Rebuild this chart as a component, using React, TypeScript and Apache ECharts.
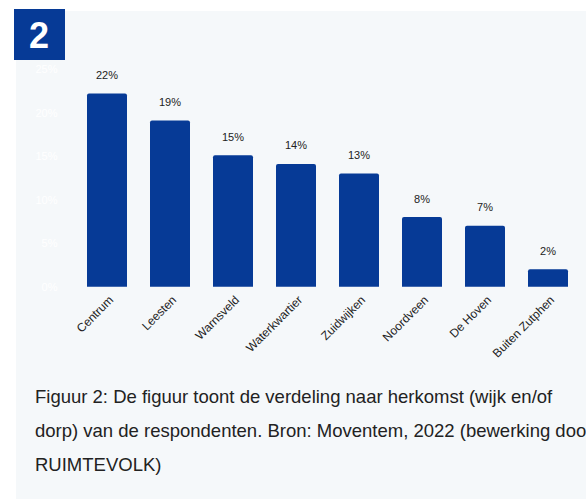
import React, { useEffect, useRef } from "react";
import * as echarts from "echarts";

const categories = ["Centrum", "Leesten", "Warnsveld", "Waterkwartier", "Zuidwijken", "Noordveen", "De Hoven", "Buiten Zutphen"];
const values = [22.2, 19.1, 15.1, 14.1, 13.0, 8.0, 7.0, 2.0];
const captionLines = [
  "Figuur 2: De figuur toont de verdeling naar herkomst (wijk en/of",
  "dorp) van de respondenten. Bron: Moventem, 2022 (bewerking door",
  "RUIMTEVOLK)",
];

export default function App() {
  const ref = useRef<HTMLDivElement>(null);
  useEffect(() => {
    if (!ref.current) return;
    const chart = echarts.init(ref.current, null, { renderer: "svg" });
    const blue = "#063a96";
    chart.setOption({
      animation: false,
      backgroundColor: "#ffffff",
      textStyle: { fontFamily: "Liberation Sans, Arial, sans-serif" },
      graphic: [
        { type: "rect", z: -10, silent: true, shape: { x: 16, y: 11, width: 600, height: 500 }, style: { fill: "#f5f8fa" } },
        { type: "rect", z: 10, shape: { x: 14, y: 9, width: 51, height: 51 }, style: { fill: blue } },
        {
          type: "text", z: 11, x: 39, y: 35,
          style: { text: "2", fill: "#ffffff", font: "bold 36px Liberation Sans, Arial, sans-serif", align: "center", verticalAlign: "middle" },
        },
        ...captionLines.map((t, i) => ({
          type: "text", z: 11, x: 35, y: 396 + i * 34,
          style: { text: t, fill: "#222222", font: "18.5px Liberation Sans, Arial, sans-serif", align: "left", verticalAlign: "middle" },
        })),
      ],
      grid: { left: 75.5, right: 6.5, top: 69, bottom: 212.3, containLabel: false },
      xAxis: {
        type: "category",
        data: categories,
        axisLine: { show: false },
        axisTick: { show: false },
        axisLabel: { rotate: 45, fontSize: 12, color: "#222222", margin: 7, interval: 0, verticalAlign: "top" },
      },
      yAxis: {
        type: "value",
        min: 0,
        max: 25,
        interval: 5,
        axisLine: { show: false },
        axisTick: { show: false },
        splitLine: { show: false },
        axisLabel: { formatter: "{value}%", fontSize: 11, color: "#ffffff", margin: 18 },
      },
      series: [
        {
          type: "bar",
          data: values,
          barWidth: 40,
          itemStyle: { color: blue, borderRadius: [2, 2, 0, 0] },
          label: {
            show: true, position: "top", distance: 13, fontSize: 11, color: "#222222",
            formatter: (p: any) => Math.round(p.value) + "%",
          },
        },
      ],
    });
    return () => chart.dispose();
  }, []);
  return <div ref={ref} style={{ position: "fixed", left: 0, top: 0, width: 586, height: 499 }} />;
}
